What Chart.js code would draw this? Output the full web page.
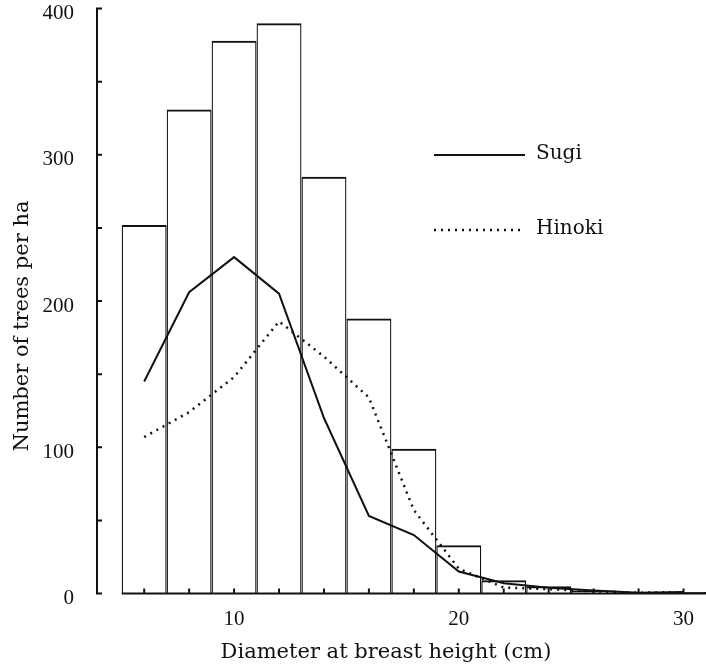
<!DOCTYPE html>
<html>
<head>
<meta charset="utf-8">
<script src="https://cdn.jsdelivr.net/npm/chart.js@4.4.0/dist/chart.umd.min.js"></script>
<style>
  html, body { margin: 0; padding: 0; background: #fff; }
  canvas { display: block; }
</style>
</head>
<body>
<canvas id="dbhChart" width="706" height="668"></canvas>
<script>
// Durchmesserklassen (Mitte der 2-cm-Klassen)
const diameterClasses = [6, 8, 10, 12, 14, 16, 18, 20, 22, 24, 26, 28, 30];
// Stammzahl je ha (Säulen)
const totalTrees = [252, 331, 378, 390, 285, 188, 99, 33, 9, 5, 2, 0, 1];
// Sugi (durchgezogen) und Hinoki (gepunktet)
const sugiTrees = [145, 206, 230, 205, 120, 53, 40, 15, 7, 4, 2, 0.5, 1];
const hinokiTrees = [107, 124, 148, 186, 162, 134, 57, 17, 4, 3, 1.5, 0.5, 1];

const xTickLabels = [10, 20, 30];
const yTickLabels = [0, 100, 200, 300, 400];

const INK = "#111";
const TEXT_FONT = "'DejaVu Serif', serif";
const NUM_FONT = "'Liberation Serif', serif";

function toPoints(values) {
  return values.map((v, i) => ({ x: diameterClasses[i], y: v }));
}

// Achsen, Ticks nach innen, Titel und Legende selbst zeichnen
const frame = {
  id: "frame",
  afterDraw(chart) {
    const { ctx, chartArea } = chart;
    const xs = chart.scales.x;
    const ys = chart.scales.y;
    const y0 = ys.getPixelForValue(0);
    const yTop = ys.getPixelForValue(400);
    const xStart = xs.getPixelForValue(5);

    ctx.save();
    ctx.strokeStyle = INK;
    ctx.lineWidth = 2;

    // x-Achse (beginnt an der ersten Klassengrenze)
    ctx.beginPath();
    ctx.moveTo(xStart, y0);
    ctx.lineTo(chartArea.right, y0);
    for (const t of xs.ticks) {
      const px = xs.getPixelForValue(t.value);
      ctx.moveTo(px, y0);
      ctx.lineTo(px, y0 - 5);
    }
    ctx.stroke();

    // y-Achse
    ctx.beginPath();
    ctx.moveTo(chartArea.left, y0 + 1);
    ctx.lineTo(chartArea.left, yTop - 1);
    for (const t of ys.ticks) {
      const py = ys.getPixelForValue(t.value);
      ctx.moveTo(chartArea.left, py);
      ctx.lineTo(chartArea.left + 5, py);
    }
    ctx.stroke();

    // Legende
    ctx.lineWidth = 2;
    ctx.beginPath();
    ctx.moveTo(434, 155);
    ctx.lineTo(525, 155);
    ctx.stroke();
    ctx.setLineDash([2, 5]);
    ctx.lineWidth = 2.5;
    ctx.beginPath();
    ctx.moveTo(434, 230);
    ctx.lineTo(525, 230);
    ctx.stroke();
    ctx.setLineDash([]);

    ctx.fillStyle = INK;
    ctx.font = `20px ${TEXT_FONT}`;
    ctx.textAlign = "left";
    ctx.textBaseline = "middle";
    ctx.fillText("Sugi", 536, 154);
    ctx.fillText("Hinoki", 536, 229);

    // Achsentitel
    ctx.font = `21px ${TEXT_FONT}`;
    ctx.textAlign = "center";
    ctx.fillText("Diameter at breast height (cm)", 386, 653);
    ctx.translate(23, 326);
    ctx.rotate(-Math.PI / 2);
    ctx.fillText("Number of trees per ha", 0, 0);
    ctx.restore();
  },
};

new Chart(document.getElementById("dbhChart"), {
  type: "bar",
  data: {
    datasets: [
      {
        type: "line",
        label: "Sugi",
        data: toPoints(sugiTrees),
        borderColor: INK,
        borderWidth: 2,
        pointRadius: 0,
        tension: 0,
        order: 1,
      },
      {
        type: "line",
        label: "Hinoki",
        data: toPoints(hinokiTrees),
        borderColor: INK,
        borderWidth: 2.5,
        borderDash: [2, 5],
        pointRadius: 0,
        tension: 0,
        order: 2,
      },
      {
        type: "bar",
        label: "Total",
        data: toPoints(totalTrees),
        backgroundColor: "rgba(0,0,0,0)",
        borderColor: INK,
        borderWidth: { top: 2, left: 1.25, right: 1.25, bottom: 0 },
        borderSkipped: false,
        inflateAmount: 0,
        barPercentage: 1,
        categoryPercentage: 1,
        order: 3,
      },
    ],
  },
  options: {
    responsive: false,
    animation: false,
    devicePixelRatio: 1,
    layout: { padding: { top: 8.5, left: 0, right: 0, bottom: 0 } },
    plugins: {
      legend: { display: false },
      tooltip: { enabled: false },
    },
    scales: {
      x: {
        type: "linear",
        offset: false,
        min: 3.9,
        max: 31,
        grid: { display: false, offset: false },
        border: { display: false },
        afterBuildTicks: (s) => {
          s.ticks = diameterClasses.map((v) => ({ value: v }));
        },
        afterFit: (s) => {
          s.height = 74.5;
          s.paddingLeft = 0;
          s.paddingRight = 0;
        },
        ticks: {
          autoSkip: false,
          maxRotation: 0,
          padding: 5,
          color: INK,
          font: { family: NUM_FONT, size: 21 },
          callback: (v) => (xTickLabels.includes(v) ? String(v) : ""),
        },
      },
      y: {
        min: 0,
        max: 400,
        grid: { display: false },
        border: { display: false },
        afterFit: (s) => {
          s.width = 97;
          s.paddingTop = 0;
          s.paddingBottom = 0;
        },
        ticks: {
          stepSize: 50,
          padding: 15,
          labelOffset: 5,
          color: INK,
          font: { family: NUM_FONT, size: 21 },
          callback: (v) => (yTickLabels.includes(v) ? String(v) : ""),
        },
      },
    },
  },
  plugins: [frame],
});
</script>
</body>
</html>
